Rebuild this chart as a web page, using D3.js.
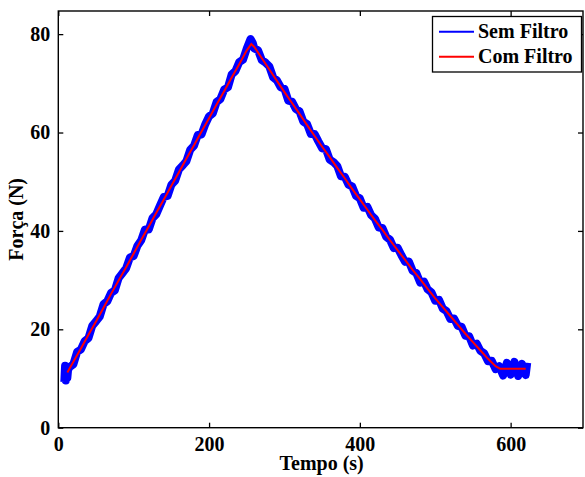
<!DOCTYPE html>
<html>
<head>
<meta charset="utf-8">
<script src="https://cdn.jsdelivr.net/npm/d3@7"></script>
<style>
  body { margin: 0; background: #fff; }
  text { font-family: "Liberation Serif", "Times New Roman", serif; font-weight: bold; }
</style>
</head>
<body>
<div id="plot"></div>
<script>
// x and y limits of the axes
const xLimits = [0, 696];
const yLimits = [0, 84.7];
const xTicks = [0, 200, 400, 600];
const yTicks = [0, 20, 40, 60, 80];

// "Com Filtro" (filtered) series
const filtTime = [12, 20, 30, 40, 50, 60, 70, 80, 90, 100, 110, 120, 130, 140, 150, 160, 170, 180, 190, 200,
  210, 220, 230, 240, 250, 256, 260, 270, 280, 290, 300, 310, 320, 330, 340, 350, 360, 370, 380, 390, 400,
  410, 420, 430, 440, 450, 460, 470, 480, 490, 500, 510, 520, 530, 540, 550, 560, 570, 580, 586, 590, 600, 610, 620];
const filtForce = [11.2, 13.4, 16.1, 18.9, 21.6, 24.4, 27.2, 29.9, 32.6, 35.4, 38.2, 40.9, 43.7, 46.4, 49.2, 51.9, 54.7, 57.4, 60.2, 62.9,
  65.7, 68.4, 71.2, 73.9, 76.7, 78.0, 77.4, 75.1, 72.8, 70.5, 68.2, 66.0, 63.8, 61.5, 59.3, 57.1, 55.0, 52.8, 50.7, 48.5, 46.4,
  44.3, 42.2, 40.2, 38.1, 36.1, 34.1, 32.1, 30.2, 28.2, 26.3, 24.5, 22.7, 20.9, 19.1, 17.4, 15.7, 14.0, 12.5, 12.0, 12.0, 12.0, 12.0, 12.0];

// "Sem Filtro" (raw) series
const rawTime = [8, 9, 10, 11, 12, 13, 15, 20, 25, 30, 35, 40, 45, 50, 55, 60, 65, 70, 75, 80, 85, 90, 95, 100,
  105, 110, 115, 120, 125, 130, 135, 140, 145, 150, 155, 160, 165, 170, 175, 180, 185, 190, 195, 200,
  205, 210, 215, 220, 225, 230, 235, 240, 245, 250, 255, 258, 260, 265, 270, 275, 280, 285, 290, 295, 300,
  305, 310, 315, 320, 325, 330, 335, 340, 345, 350, 355, 360, 365, 370, 375, 380, 385, 390, 395, 400,
  405, 410, 415, 420, 425, 430, 435, 440, 445, 450, 455, 460, 465, 470, 475, 480, 485, 490, 495, 500,
  505, 510, 515, 520, 525, 530, 535, 540, 545, 550, 555, 560, 565, 570, 575, 580, 585, 590, 595, 600,
  605, 610, 615, 620, 622];
const rawForce = [9.3, 12.6, 9.6, 12.4, 10.1, 11.8, 12.3, 12.9, 15.4, 15.9, 17.6, 18.2, 20.7, 21.6, 22.6, 25.1, 25.7, 27.4, 27.9, 30.4, 31.4, 32.4, 34.6, 34.9,
  37.0, 38.1, 40.3, 40.3, 42.6, 43.4, 45.2, 46.9, 47.1, 49.4, 50.2, 52.5, 53.3, 54.2, 56.5, 57.3, 59.5, 59.6, 61.7, 63.3,
  63.9, 66.2, 66.8, 68.7, 69.2, 71.8, 72.5, 74.3, 74.8, 77.1, 79.0, 78.2, 77.1, 76.7, 74.7, 74.2, 73.4, 71.2, 70.6, 69.2, 68.9,
  66.5, 66.3, 64.8, 64.3, 62.2, 61.7, 59.7, 59.7, 58.2, 56.8, 56.6, 54.5, 54.0, 53.2, 51.1, 51.0, 49.4, 49.0, 47.1, 46.6,
  44.7, 44.9, 43.2, 42.5, 40.7, 40.6, 38.8, 38.2, 36.5, 36.6, 35.1, 33.7, 33.8, 31.9, 31.4, 29.5, 29.7, 28.1, 27.5, 25.8,
  26.0, 24.2, 23.7, 22.1, 22.2, 20.7, 20.5, 18.7, 18.6, 16.7, 17.1, 15.6, 15.1, 13.5, 13.6, 11.9, 12.5, 10.6, 13.2, 10.8,
  13.4, 10.5, 13.0, 10.7, 13.2];

const seriesNames = ['Sem Filtro', 'Com Filtro'];
const seriesColors = ['#0000ff', '#ff0000'];

const W = 585, H = 477;
const plotLeft = 58.3, plotRight = 583, plotTop = 11, plotBottom = 427.7;

const svg = d3.select('#plot').append('svg')
  .attr('width', W)
  .attr('height', H);

const x = d3.scaleLinear().domain(xLimits).range([plotLeft, plotRight]);
const y = d3.scaleLinear().domain(yLimits).range([plotBottom, plotTop]);

// data lines
const line = d3.line().x(d => x(d[0])).y(d => y(d[1]));
const raw = rawTime.map((t, i) => [t, rawForce[i]]);
const filt = filtTime.map((t, i) => [t, filtForce[i]]);

svg.append('path')
  .datum(raw)
  .attr('d', line)
  .attr('fill', 'none')
  .attr('stroke', seriesColors[0])
  .attr('stroke-width', 8)
  .attr('stroke-linejoin', 'round');

svg.append('path')
  .datum(filt)
  .attr('d', line)
  .attr('fill', 'none')
  .attr('stroke', seriesColors[1])
  .attr('stroke-width', 2);

// axes, ticks inside on all four sides
const tickLen = 5;
svg.append('g')
  .attr('transform', `translate(0,${plotBottom})`)
  .call(d3.axisBottom(x).tickValues(xTicks).tickSizeInner(-tickLen).tickSizeOuter(0).tickPadding(9));
svg.append('g')
  .attr('transform', `translate(0,${plotTop})`)
  .call(d3.axisTop(x).tickValues(xTicks).tickSizeInner(-tickLen).tickSizeOuter(0).tickFormat(''));
svg.append('g')
  .attr('transform', `translate(${plotLeft},0)`)
  .call(d3.axisLeft(y).tickValues(yTicks).tickSizeInner(-tickLen).tickSizeOuter(0).tickPadding(8));
svg.append('g')
  .attr('transform', `translate(${plotRight},0)`)
  .call(d3.axisRight(y).tickValues(yTicks).tickSizeInner(-tickLen).tickSizeOuter(0).tickFormat(''));

svg.selectAll('.domain').remove();
svg.selectAll('.tick line').attr('stroke', '#000').attr('stroke-width', 1.3);
svg.selectAll('.tick text')
  .attr('fill', '#000')
  .style('font-size', '20px');

// frame
svg.append('rect')
  .attr('x', plotLeft)
  .attr('y', plotTop)
  .attr('width', plotRight - plotLeft)
  .attr('height', plotBottom - plotTop)
  .attr('fill', 'none')
  .attr('stroke', '#000')
  .attr('stroke-width', 1.4);

// axis labels
svg.append('text')
  .attr('x', (plotLeft + plotRight) / 2 + 1)
  .attr('y', 470)
  .attr('text-anchor', 'middle')
  .style('font-size', '20px')
  .text('Tempo (s)');

svg.append('text')
  .attr('transform', `translate(23,${(plotTop + plotBottom) / 2}) rotate(-90)`)
  .attr('text-anchor', 'middle')
  .style('font-size', '20px')
  .text('Força (N)');

// legend
const legend = svg.append('g');
legend.append('rect')
  .attr('x', 432.5)
  .attr('y', 16.5)
  .attr('width', 149)
  .attr('height', 55.5)
  .attr('fill', '#fff')
  .attr('stroke', '#000')
  .attr('stroke-width', 1.3);

seriesNames.forEach((name, i) => {
  const ly = 31.7 + i * 25;
  legend.append('line')
    .attr('x1', 439).attr('x2', 474)
    .attr('y1', ly).attr('y2', ly)
    .attr('stroke', seriesColors[i])
    .attr('stroke-width', 2);
  legend.append('text')
    .attr('x', 478)
    .attr('y', ly + 6.5)
    .style('font-size', '20px')
    .text(name);
});
</script>
</body>
</html>
